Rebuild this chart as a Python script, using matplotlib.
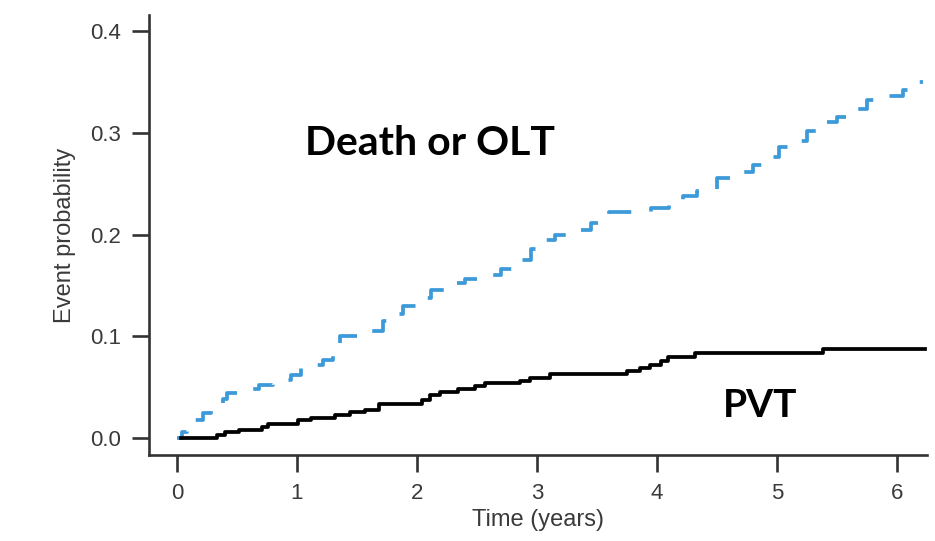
import matplotlib
matplotlib.use('Agg')
import matplotlib.pyplot as plt

# Death or OLT (cumulative, step function)
olt_time = [0.00, 0.04, 0.08, 0.14, 0.22, 0.28, 0.38, 0.42, 0.55, 0.68, 0.80, 0.95,
            1.03, 1.22, 1.30, 1.36, 1.62, 1.72, 1.80, 1.88, 2.00, 2.12, 2.25, 2.40,
            2.55, 2.70, 2.85, 2.95, 3.02, 3.15, 3.30, 3.45, 3.60, 3.95, 4.10, 4.22,
            4.33, 4.50, 4.65, 4.80, 4.92, 5.02, 5.15, 5.25, 5.36, 5.50, 5.65, 5.75,
            5.90, 6.05, 6.15, 6.22]
olt_prob = [0.000, 0.006, 0.012, 0.018, 0.025, 0.030, 0.038, 0.044, 0.048, 0.052, 0.057, 0.062,
            0.072, 0.077, 0.085, 0.100, 0.105, 0.115, 0.122, 0.130, 0.138, 0.146, 0.152, 0.156,
            0.160, 0.166, 0.175, 0.186, 0.195, 0.200, 0.205, 0.211, 0.222, 0.226, 0.232, 0.238,
            0.243, 0.256, 0.262, 0.268, 0.276, 0.286, 0.292, 0.302, 0.311, 0.316, 0.323, 0.332,
            0.336, 0.342, 0.350, 0.350]

# PVT
pvt_time = [0.03, 0.33, 0.40, 0.52, 0.71, 0.76, 1.01, 1.12, 1.32, 1.44, 1.57, 1.68,
            2.04, 2.11, 2.19, 2.34, 2.48, 2.57, 2.86, 2.94, 3.11, 3.75, 3.86, 3.94,
            4.03, 4.09, 4.32, 5.38, 6.23]
pvt_prob = [0.000, 0.003, 0.006, 0.008, 0.011, 0.014, 0.018, 0.020, 0.023, 0.026, 0.028, 0.033,
            0.037, 0.042, 0.045, 0.048, 0.051, 0.054, 0.056, 0.059, 0.063, 0.066, 0.069, 0.072,
            0.076, 0.080, 0.084, 0.088, 0.088]

x_ticks = [0, 1, 2, 3, 4, 5, 6]
y_ticks = [0.0, 0.1, 0.2, 0.3, 0.4]

plt.rcParams['font.family'] = ['Liberation Sans', 'DejaVu Sans']

fig = plt.figure(figsize=(9.35, 5.41), dpi=100)
ax = fig.add_axes([149/935, 1-455/541, (927-149)/935, (455-15)/541])

lw = 2.7
ax.step(olt_time, olt_prob, where='post', color='#3d9ad9', lw=lw,
        linestyle=(2, (6.4, 5.4)))
ax.step(pvt_time, pvt_prob, where='post', color='black', lw=lw)

ax.set_xlim(-0.2333, 6.25)
ax.set_ylim(-0.0167, 0.4159)

for s in ['top', 'right']:
    ax.spines[s].set_visible(False)
for s in ['left', 'bottom']:
    ax.spines[s].set_color('#333333')
    ax.spines[s].set_linewidth(1.9)

ax.set_xticks(x_ticks)
ax.set_xticklabels([str(t) for t in x_ticks])
ax.set_yticks(y_ticks)
ax.set_yticklabels(['%.1f' % t for t in y_ticks])
ax.tick_params(direction='out', length=12, width=1.9, color='#333333',
               labelcolor='#3a3a3a', labelsize=16, pad=8)

ax.set_xlabel('Time (years)', fontsize=17, color='#3a3a3a', labelpad=4)
ax.set_ylabel('Event probability', fontsize=17, color='#3a3a3a', labelpad=10)

ax.text(1.067, 0.278, 'Death or OLT', family=['Lato', 'DejaVu Sans'],
        fontweight='bold', fontsize=29.5, color='black', ha='left', va='baseline')
ax.text(4.55, 0.0206, 'PVT', family=['Lato', 'DejaVu Sans'],
        fontweight='bold', fontsize=28, color='black', ha='left', va='baseline')

fig.savefig('out.png', dpi=100)
